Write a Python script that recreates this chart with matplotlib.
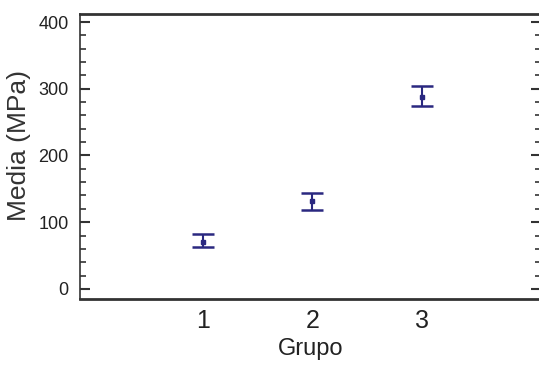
import numpy as np
import matplotlib.pyplot as plt
from matplotlib.ticker import MultipleLocator

# datos
grupos = [1, 2, 3]
etiquetas = ['1', '2', '3']
media = [71, 131, 288]
inferior = [63, 118, 274]
superior = [82, 144, 304]

err = [np.array(media) - np.array(inferior), np.array(superior) - np.array(media)]

fuente = ['Liberation Sans Narrow', 'Liberation Sans', 'DejaVu Sans']

fig = plt.figure(figsize=(5.39, 3.69), dpi=100)
ax = fig.add_axes([0.148, 0.190, 0.855, 0.772])

ax.errorbar(grupos, media, yerr=err, fmt='s', color='#2a2880', ecolor='#2a2880',
            markersize=3, elinewidth=1.5, capsize=8, capthick=1.8)

ax.set_xlim(-0.13, 4.09)
ax.set_ylim(-15, 412)
ax.set_xticks(grupos)
ax.set_xticklabels(etiquetas, fontsize=18, family=fuente, color='#222222')
ax.set_yticks([0, 100, 200, 300, 400])
ax.set_yticklabels(['0', '100', '200', '300', '400'], fontsize=13, family=fuente, color='#222222')
ax.yaxis.set_minor_locator(MultipleLocator(20))

ax.tick_params(axis='x', length=0, pad=7)
ax.tick_params(axis='y', which='major', direction='in', length=7, width=1.5,
               right=True, pad=8, color='#333333')
ax.tick_params(axis='y', which='minor', direction='in', length=4, width=1.2,
               right=True, color='#333333')

for s in ['top', 'bottom']:
    ax.spines[s].set_linewidth(2)
    ax.spines[s].set_color('#333333')
ax.spines['left'].set_linewidth(1.2)
ax.spines['left'].set_color('#333333')
ax.spines['right'].set_visible(False)

ax.set_xlabel('Grupo', fontsize=17, family=fuente, color='#222222', labelpad=4)
ax.set_ylabel('Media (MPa)', fontsize=19, family=['Liberation Sans', 'DejaVu Sans'],
              color='#333333')
ax.yaxis.set_label_coords(-0.105, 0.54)

fig.savefig('out.png', dpi=100)
